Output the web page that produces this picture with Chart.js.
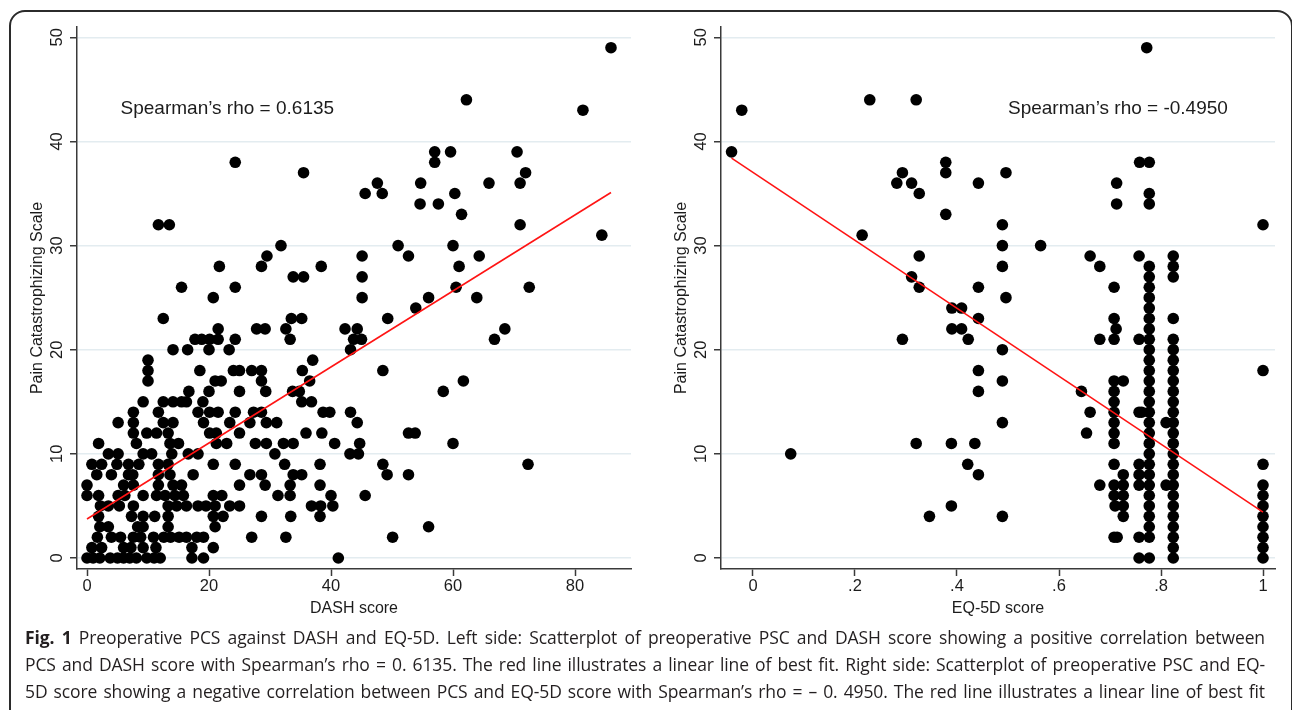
<!DOCTYPE html>
<html>
<head>
<meta charset="utf-8">
<title>Fig. 1 Preoperative PCS against DASH and EQ-5D</title>
<script src="https://cdn.jsdelivr.net/npm/chart.js@4"></script>
<style>
  html, body { margin: 0; padding: 0; width: 1292px; height: 710px; overflow: hidden; background: #fff; }
  #frame { position: absolute; left: 9px; top: 10px; width: 1280px; height: 760px; border: 2px solid #2b2b2b; border-radius: 16px; }
  canvas { position: absolute; top: 0; }
  #left { left: 0; }
  #right { left: 644px; }
  #caption { position: absolute; left: 25px; top: 624px; width: 1240px; font-family: "Open Sans", "Noto Sans", sans-serif; font-size: 17.5px; letter-spacing: -0.1px; color: #231f20; }
  #caption div { height: 27px; line-height: 27px; text-align: justify; text-align-last: justify; }
</style>
</head>
<body>
<div id="frame"></div>
<canvas id="left" width="646" height="630"></canvas>
<canvas id="right" width="646" height="630"></canvas>
<div id="caption">
  <div><b>Fig. 1</b> Preoperative PCS against DASH and EQ-5D. Left side: Scatterplot of preoperative PSC and DASH score showing a positive correlation between</div>
  <div>PCS and DASH score with Spearman’s rho = 0. 6135. The red line illustrates a linear line of best fit. Right side: Scatterplot of preoperative PSC and EQ-</div>
  <div>5D score showing a negative correlation between PCS and EQ-5D score with Spearman’s rho = – 0. 4950. The red line illustrates a linear line of best fit</div>
</div>

<script>
// left panel: DASH score (x) vs Pain Catastrophizing Scale (y)
const dashPairs = [
  [0,0],[1,0],[2.1,0],[3.8,0],[5,0],[6,0],[7,0],[8.1,0],[9.8,0],[11,0],[12,0],[17.2,0],[19.1,0],[41.2,0],
  [0.8,1],[2.4,1],[6,1],[7.2,1],[9.2,1],[11.3,1],[17.2,1],[20.7,1],
  [1.7,2],[4,2],[5.5,2],[7.6,2],[8.8,2],[10.9,2],[12.6,2],[13.7,2],[15.1,2],[16.3,2],[18,2],[19.1,2],[27,2],[32.6,2],[50.1,2],
  [2.1,3],[3.5,3],[8.3,3],[9.2,3],[13.3,3],[21,3],[56,3],
  [1.9,4],[7.3,4],[9.2,4],[11.1,4],[13.3,4],[20.7,4],[22.3,4],[28.6,4],[33.4,4],[38.2,4],
  [2.2,5],[3.5,5],[5.3,5],[7.6,5],[13.3,5],[14.7,5],[16.3,5],[18.2,5],[19.5,5],[21,5],[23.4,5],[25,5],[36.8,5],[38.3,5],[40.3,5],
  [0,6],[1.9,6],[5.1,6],[6.2,6],[9.2,6],[11.4,6],[12.8,6],[14.4,6],[15.8,6],[20.7,6],[22.1,6],[31.3,6],[33.3,6],[40,6],[45.6,6],
  [0,7],[6,7],[7.6,7],[11.7,7],[14.1,7],[15.5,7],[25,7],[29.2,7],[33.3,7],[38.2,7],
  [1.6,8],[4,8],[6.8,8],[7.5,8],[11.7,8],[13.6,8],[17.4,8],[26.7,8],[28.6,8],[33.8,8],[35.2,8],[49.2,8],[52.7,8],
  [0.8,9],[2.4,9],[4.9,9],[6.8,9],[8.5,9],[11.7,9],[13.3,9],[20.7,9],[24.3,9],[32.4,9],[38.2,9],[48.5,9],[72.3,9],
  [3.5,10],[5.1,10],[9.2,10],[10.6,10],[13.9,10],[16.6,10],[18.2,10],[30.8,10],[43.1,10],[44.5,10],
  [1.9,11],[8.1,11],[13.6,11],[15,11],[21.2,11],[22.9,11],[27.6,11],[29.4,11],[32.2,11],[33.8,11],[40.6,11],[44.7,11],[60,11],
  [7.6,12],[9.8,12],[11.4,12],[13.3,12],[20.1,12],[21.2,12],[25,12],[35.9,12],[38.5,12],[52.7,12],[53.8,12],
  [5.1,13],[7.6,13],[12.5,13],[14.1,13],[19.1,13],[23.4,13],[26.7,13],[29.4,13],[31.1,13],[44.3,13],
  [7.6,14],[11.7,14],[18.2,14],[20.1,14],[21.5,14],[24.3,14],[27.3,14],[28.6,14],[38.7,14],[39.8,14],[43.2,14],
  [9.2,15],[12.5,15],[14.1,15],[15.5,15],[16.3,15],[19,15],[35.2,15],[36.8,15],
  [16.7,16],[20,16],[25,16],[29.3,16],[33.7,16],[34.8,16],[58.4,16],
  [10,17],[21,17],[22,17],[28.6,17],[36.5,17],[61.7,17],
  [10,18],[18.5,18],[24,18],[25,18],[27,18],[28.6,18],[35.3,18],[48.5,18],
  [10,19],[37,19],
  [14.1,20],[16.5,20],[20,20],[23.3,20],[43.2,20],
  [17.7,21],[18.8,21],[20.1,21],[21.5,21],[24.3,21],[33.3,21],[43.7,21],[45,21],[66.8,21],
  [21.5,22],[27.8,22],[29.2,22],[32.6,22],[42.3,22],[44.3,22],[68.5,22],
  [12.5,23],[33.5,23],[35.2,23],[49.3,23],
  [53.9,24],
  [20.7,25],[45.1,25],[56,25],[63.9,25],
  [15.5,26],[24.3,26],[60.5,26],[72.5,26],
  [33.8,27],[35.5,27],[45.1,27],
  [21.7,28],[28.6,28],[38.4,28],[61,28],
  [29.5,29],[45.1,29],[52.7,29],[64.3,29],
  [31.8,30],[51,30],[60,30],
  [84.4,31],
  [11.7,32],[13.5,32],[71,32],
  [61.4,33],
  [54.6,34],[57.6,34],
  [45.6,35],[48.4,35],[60.3,35],
  [47.6,36],[54.7,36],[65.9,36],[71,36],
  [35.5,37],[71.9,37],
  [24.3,38],[57,38],
  [57,39],[59.6,39],[70.5,39],
  [81.3,43],[62.2,44],[85.9,49]
];
const dashFitX = [0, 85.9];
const dashFitY = [3.75, 35.1];
const dashTicks = [0, 20, 40, 60, 80];

// right panel: EQ-5D score (x) vs Pain Catastrophizing Scale (y)
const eqPairs = [
  [-0.042,39],[-0.022,43],[0.229,44],[0.32,44],[0.214,31],[0.293,37],[0.282,36],[0.311,36],[0.326,35],
  [0.378,38],[0.378,37],[0.378,33],[0.326,29],[0.311,27],[0.326,26],[0.39,24],[0.409,24],[0.39,22],[0.409,22],
  [0.293,21],[0.422,21],[0.32,11],[0.389,11],[0.074,10],[0.421,9],[0.389,5],[0.346,4],
  [0.442,36],[0.496,37],[0.442,26],[0.496,25],[0.442,23],[0.442,18],[0.442,16],[0.435,11],[0.442,8],
  [0.489,32],[0.489,30],[0.489,28],[0.489,20],[0.489,17],[0.489,13],[0.489,4],
  [0.564,30],[0.661,29],[0.68,28],[0.68,21],[0.68,7],[0.644,16],[0.661,14],[0.654,12],
  [0.713,36],[0.713,34],
  [0.708,26],[0.708,23],[0.712,22],[0.708,21],[0.708,17],[0.708,16],[0.708,15],[0.708,14],[0.708,13],
  [0.708,12],[0.708,11],[0.708,9],[0.708,7],[0.708,6],[0.71,5],[0.708,2],
  [0.726,17],[0.726,8],[0.726,7],[0.726,6],[0.726,5],[0.726,4],[0.714,2],
  [0.758,38],[0.772,49],[0.757,29],[0.757,21],[0.757,14],[0.762,14],[0.757,9],[0.757,8],[0.757,7],[0.757,2],[0.757,0],
  [0.777,38],[0.777,35],[0.777,34],[0.777,28],[0.777,27],[0.777,26],[0.777,25],[0.777,24],[0.777,23],[0.777,22],
  [0.777,21],[0.777,20],[0.777,19],[0.777,18],[0.777,17],[0.777,16],[0.777,15],[0.777,14],[0.777,13],[0.777,12],
  [0.777,11],[0.777,10],[0.777,9],[0.777,8],[0.777,7],[0.777,6],[0.777,5],[0.777,4],[0.777,3],[0.777,2],[0.777,0],
  [0.824,29],[0.824,28],[0.824,27],[0.824,23],[0.824,21],[0.824,20],[0.824,19],[0.824,18],[0.824,17],[0.824,16],
  [0.824,15],[0.824,14],[0.824,13],[0.824,12],[0.824,11],[0.824,10],[0.824,9],[0.824,8],[0.824,7],[0.824,6],
  [0.824,5],[0.824,4],[0.824,3],[0.824,2],[0.824,1],[0.824,0],[0.81,13],[0.81,7],
  [1,32],[1,18],[1,9],[1,7],[1,6],[1,5],[1,4],[1,3],[1,2],[1,1],[1,0]
];
const eqFitX = [-0.042, 1];
const eqFitY = [38.4, 4.4];
const eqTicks = [0, 0.2, 0.4, 0.6, 0.8, 1];

const pcsTicks = [0, 10, 20, 30, 40, 50];
const rhoText = ['Spearman’s rho = 0.6135', 'Spearman’s rho = -0.4950'];
const rhoAt = [[5.5, 43.1], [0.5, 43.1]];

const FONT = 'Liberation Sans, Arial, sans-serif';
const INK = '#1c1c1c';
const AXIS = '#3a3a3a';

const rhoLabel = {
  id: 'rhoLabel',
  afterDatasetsDraw(chart, args, opts) {
    const { ctx, scales: { x, y } } = chart;
    ctx.save();
    ctx.font = '19px ' + FONT;
    ctx.fillStyle = INK;
    ctx.textBaseline = 'middle';
    ctx.textAlign = 'left';
    ctx.fillText(opts.text, x.getPixelForValue(opts.at[0]), y.getPixelForValue(opts.at[1]));
    ctx.restore();
  }
};

function makeChart(id, pairs, fitX, fitY, xMin, xMax, xTicks, xTitle, fmt, note, noteAt) {
  return new Chart(document.getElementById(id), {
    type: 'scatter',
    data: {
      datasets: [
        {
          data: fitX.map((v, i) => ({ x: v, y: fitY[i] })),
          showLine: true,
          borderColor: '#ff1414',
          borderWidth: 1.6,
          pointRadius: 0
        },
        {
          data: pairs.map(p => ({ x: p[0], y: p[1] })),
          backgroundColor: '#000',
          borderWidth: 0,
          pointRadius: 5.8
        }
      ]
    },
    options: {
      responsive: false,
      animation: false,
      events: [],
      layout: { padding: { left: 0, right: 15, top: 27, bottom: 11 } },
      plugins: {
        legend: { display: false },
        tooltip: { enabled: false },
        rhoLabel: { text: note, at: noteAt }
      },
      scales: {
        x: {
          type: 'linear',
          min: xMin,
          max: xMax,
          afterBuildTicks: s => { s.ticks = xTicks.map(v => ({ value: v })); },
          afterFit: s => { s.height = 50; },
          border: { display: true, color: AXIS, width: 1.5 },
          grid: { drawOnChartArea: false, drawTicks: true, tickLength: 7, tickColor: AXIS, tickWidth: 1.5 },
          ticks: { color: INK, font: { family: FONT, size: 16.5 }, padding: 1, maxRotation: 0, callback: fmt },
          title: { display: true, text: xTitle, color: INK, font: { family: FONT, size: 16 }, padding: { top: 0, bottom: 1 } }
        },
        y: {
          type: 'linear',
          min: -1.056,
          max: 50.99,
          afterBuildTicks: s => { s.ticks = pcsTicks.map(v => ({ value: v })); },
          afterFit: s => { s.width = 77; },
          border: { display: true, color: AXIS, width: 1.5 },
          grid: { color: '#e3ecf0', lineWidth: 1.5, drawTicks: true, tickLength: 7, tickColor: AXIS, tickWidth: 1.5 },
          ticks: { color: INK, font: { family: FONT, size: 16.5 }, minRotation: 90, maxRotation: 90, crossAlign: 'center', padding: 3 },
          title: { display: true, text: 'Pain Catastrophizing Scale', color: INK, font: { family: FONT, size: 16 }, padding: { top: 28, bottom: 0 } }
        }
      }
    },
    plugins: [rhoLabel]
  });
}

function draw() {
  makeChart('left', dashPairs, dashFitX, dashFitY, -1.64, 89.18, dashTicks, 'DASH score',
    v => String(v), rhoText[0], rhoAt[0]);
  makeChart('right', eqPairs, eqFitX, eqFitY, -0.0627, 1.0235, eqTicks, 'EQ-5D score',
    v => (v === 0 || v === 1) ? String(v) : String(v).replace(/^0/, ''), rhoText[1], rhoAt[1]);
}

Promise.all([
  document.fonts.load('16px "Liberation Sans"'),
  document.fonts.load('16px "Open Sans"'),
  document.fonts.load('bold 16px "Open Sans"')
]).then(draw, draw);
</script>
</body>
</html>
